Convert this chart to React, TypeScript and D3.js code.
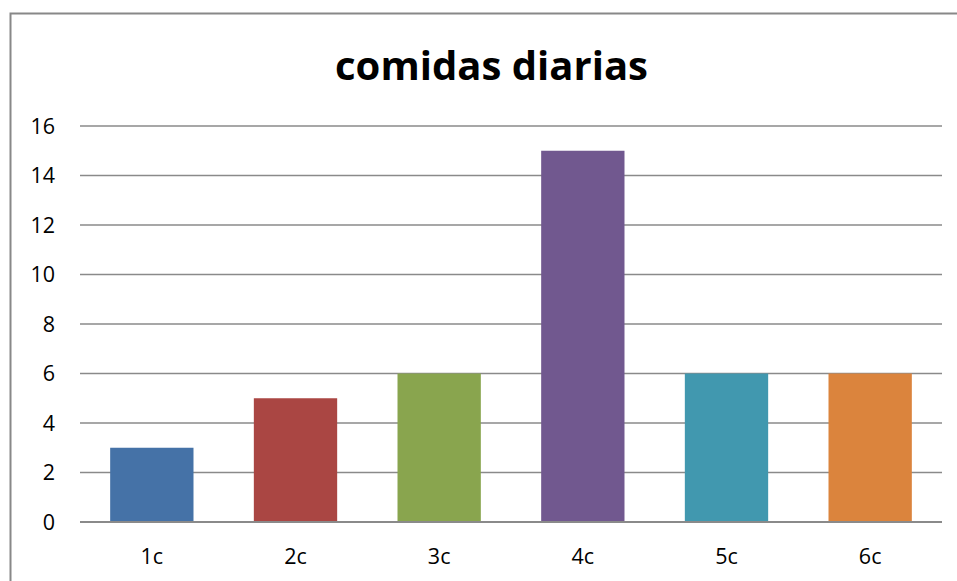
import React from "react";
import * as d3 from "d3";

const categories = ["1c", "2c", "3c", "4c", "5c", "6c"];
const values = [3, 5, 6, 15, 6, 6];
const colors = ["#4572A7", "#AA4643", "#89A54E", "#71588F", "#4198AF", "#DB843D"];
const yTicks = [0, 2, 4, 6, 8, 10, 12, 14, 16];
const title = "comidas diarias";

export default function App() {
  const W = 957, H = 581;
  const left = 80, right = 942, top = 126, bottom = 522;
  const x = d3.scaleBand<string>().domain(categories).range([left, right]).paddingInner(0.42).paddingOuter(0.21);
  const y = d3.scaleLinear().domain([0, 16]).range([bottom, top]);
  const font = "'Open Sans', 'Liberation Sans', sans-serif";
  return (
    <svg width={W} height={H} style={{ position: "absolute", left: 0, top: 0, background: "#fff" }}>
      <rect x={10.5} y={13.5} width={960} height={600} fill="#fff" stroke="#888" strokeWidth={2} />
      <text x={491.5} y={80} textAnchor="middle" fontFamily={font} fontWeight="bold" fontSize={39} textLength={313} lengthAdjust="spacingAndGlyphs" fill="#000">{title}</text>
      {yTicks.map((t) => (
        <g key={t}>
          <line x1={left} x2={right} y1={y(t)} y2={y(t)} stroke="#8a8a8a" strokeWidth={1.5} />
          <text x={55} y={y(t)} dy="0.36em" textAnchor="end" fontFamily={font} fontSize={21.5} fill="#000">{t}</text>
        </g>
      ))}
      {categories.map((c, i) => (
        <rect key={c} x={x(c)} y={y(values[i])} width={x.bandwidth()} height={y(0) - y(values[i])} fill={colors[i]} />
      ))}
      <line x1={left} x2={right} y1={y(0)} y2={y(0)} stroke="#8a8a8a" strokeWidth={2} />
      {categories.map((c) => (
        <text key={c} x={(x(c) as number) + x.bandwidth() / 2} y={564} textAnchor="middle" fontFamily={font} fontSize={21.5} fill="#000">{c}</text>
      ))}
    </svg>
  );
}
